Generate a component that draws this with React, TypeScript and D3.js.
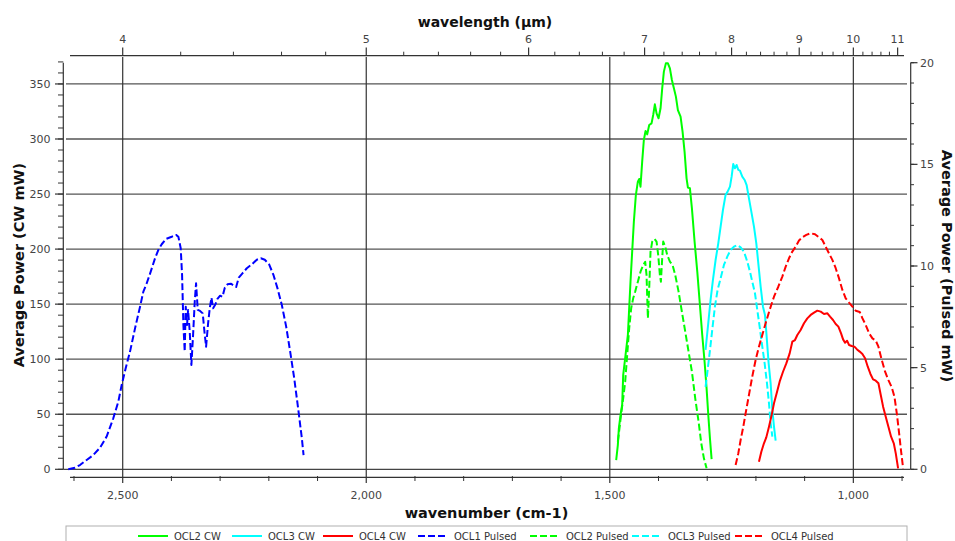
import React from 'react';
import * as d3 from 'd3';

// ---------- data (wavenumber cm-1, power mW) ----------
const ocl1PulsedWn = [2611.7, 2598.0, 2587.7, 2574.0, 2560.4, 2546.6, 2533.0, 2519.3, 2509.0, 2502.1, 2493.9, 2485.0, 2474.7, 2464.4, 2457.6, 2450.7, 2442.5, 2433.6, 2426.8, 2419.9, 2411.0, 2399.4, 2390.5, 2385.7, 2380.9, 2378.1, 2375.4, 2372.7, 2370.6, 2367.9, 2365.8, 2362.4, 2359.0, 2355.5, 2352.1, 2349.4, 2345.9, 2341.2, 2335.7, 2332.2, 2328.8, 2324.7, 2321.3, 2317.8, 2314.4, 2309.6, 2305.5, 2300.0, 2295.2, 2290.4, 2284.9, 2278.1, 2271.2, 2267.1, 2261.7, 2254.2, 2245.2, 2235.0, 2224.7, 2216.5, 2208.3, 2199.4, 2190.5, 2182.2, 2173.3, 2164.4, 2156.2, 2147.9, 2139.0, 2132.2, 2128.7];
const ocl1PulsedMw = [0.0, 0.08, 0.21, 0.46, 0.70, 1.06, 1.61, 2.51, 3.33, 4.15, 4.97, 5.79, 6.93, 8.00, 8.74, 9.15, 9.72, 10.38, 10.79, 11.07, 11.33, 11.44, 11.53, 11.44, 10.87, 9.56, 7.10, 5.79, 8.00, 7.10, 7.84, 6.77, 5.13, 6.61, 8.25, 9.15, 7.84, 7.79, 7.67, 6.77, 6.03, 7.18, 7.92, 8.44, 7.92, 8.12, 8.38, 8.54, 8.49, 8.93, 9.10, 9.13, 9.03, 8.97, 9.43, 9.64, 9.89, 10.08, 10.31, 10.38, 10.31, 10.08, 9.56, 8.90, 8.08, 7.02, 5.79, 4.48, 2.84, 1.52, 0.70];

const ocl2CwWn = [1486.9, 1483.5, 1481.4, 1478.0, 1474.6, 1472.5, 1467.7, 1462.9, 1457.5, 1450.6, 1446.5, 1442.4, 1439.6, 1437.0, 1433.5, 1430.1, 1426.6, 1423.2, 1419.1, 1414.3, 1410.9, 1407.5, 1404.0, 1399.9, 1395.8, 1392.4, 1389.0, 1384.9, 1380.7, 1376.6, 1372.5, 1368.4, 1364.3, 1360.2, 1354.7, 1350.6, 1346.5, 1342.4, 1339.6, 1335.5, 1331.4, 1325.9, 1320.4, 1315.0, 1310.2, 1305.4, 1301.3, 1297.8, 1294.4, 1291.0];
const ocl2CwMw = [8.4, 22.0, 37.2, 49.3, 58.4, 85.6, 103.8, 122.0, 170.4, 224.9, 249.1, 261.3, 263.7, 256.7, 279.4, 299.1, 307.3, 304.2, 312.7, 314.2, 321.8, 331.5, 323.3, 318.8, 327.9, 346.0, 361.2, 368.7, 368.7, 364.2, 353.6, 346.0, 338.5, 326.3, 320.3, 306.7, 288.5, 264.3, 255.8, 255.2, 237.0, 206.7, 179.5, 149.2, 122.0, 97.7, 73.5, 49.3, 28.1, 9.3];

const ocl2PulsedWn = [1483.5, 1480.1, 1476.6, 1472.5, 1468.4, 1464.3, 1460.2, 1456.1, 1452.0, 1447.9, 1442.4, 1436.9, 1431.4, 1427.3, 1424.6, 1421.8, 1419.1, 1416.4, 1412.9, 1408.1, 1404.0, 1400.6, 1397.2, 1395.1, 1392.4, 1390.3, 1386.2, 1382.1, 1376.6, 1371.1, 1365.7, 1358.8, 1352.0, 1345.1, 1338.3, 1331.4, 1324.6, 1317.7, 1312.2, 1306.8, 1301.3];
const ocl2PulsedMw = [1.36, 2.02, 2.75, 3.49, 4.31, 5.62, 6.93, 7.92, 8.41, 8.74, 9.23, 9.72, 10.05, 10.21, 9.56, 7.43, 8.90, 10.70, 11.20, 11.33, 11.20, 10.54, 9.56, 9.23, 10.38, 11.20, 10.95, 10.54, 10.21, 10.05, 9.56, 8.74, 7.75, 6.77, 5.79, 4.80, 3.49, 2.34, 1.28, 0.54, 0.05];

const ocl3CwWn = [1303.4, 1297.9, 1293.1, 1288.3, 1282.8, 1277.3, 1272.5, 1267.7, 1262.3, 1258.1, 1253.3, 1249.9, 1246.5, 1243.1, 1239.6, 1236.2, 1232.8, 1228.0, 1223.2, 1219.1, 1214.3, 1208.8, 1204.0, 1199.2, 1195.1, 1190.3, 1185.5, 1181.4, 1178.0, 1173.9, 1169.8, 1166.3, 1162.9, 1159.5];
const ocl3CwMw = [108.4, 132.6, 153.8, 171.9, 190.1, 205.2, 220.4, 235.5, 249.2, 252.2, 256.7, 265.8, 277.3, 273.4, 276.4, 271.9, 271.3, 265.8, 262.8, 258.2, 246.1, 232.5, 220.4, 205.2, 187.1, 165.9, 147.7, 140.2, 120.5, 96.3, 78.1, 53.9, 38.7, 26.0];

const ocl3PulsedWn = [1303.4, 1299.2, 1295.1, 1289.7, 1284.2, 1278.7, 1272.5, 1265.7, 1258.8, 1252.0, 1245.1, 1238.3, 1231.4, 1224.6, 1217.7, 1212.2, 1207.5, 1202.0, 1197.2, 1192.4, 1186.9, 1182.1, 1177.3, 1173.2, 1169.8, 1166.3];
const ocl3PulsedMw = [4.06, 4.88, 5.70, 6.85, 8.00, 8.82, 9.39, 10.05, 10.46, 10.79, 10.95, 11.03, 10.92, 10.71, 10.21, 9.72, 9.23, 8.66, 7.84, 7.02, 6.03, 5.21, 4.23, 3.25, 2.26, 1.61];

const ocl4CwWn = [1193.8, 1188.9, 1183.5, 1178.7, 1173.2, 1167.7, 1162.9, 1157.4, 1151.3, 1144.4, 1137.6, 1130.7, 1125.3, 1119.8, 1115.0, 1108.2, 1101.3, 1094.5, 1087.6, 1080.7, 1073.9, 1067.0, 1060.2, 1053.3, 1047.8, 1041.7, 1036.2, 1030.7, 1025.2, 1021.1, 1017.0, 1012.9, 1008.8, 1003.3, 997.8, 992.4, 986.9, 981.4, 975.9, 970.4, 964.9, 959.5, 954.0, 948.5, 943.7, 938.9, 933.5, 928.0, 922.5, 917.0, 912.9, 908.1];
const ocl4CwMw = [6.9, 16.0, 23.6, 29.0, 38.7, 49.3, 59.9, 69.0, 79.6, 88.6, 96.2, 105.3, 115.9, 117.4, 122.0, 126.5, 132.6, 137.1, 140.2, 142.3, 144.1, 143.2, 141.1, 141.7, 138.6, 135.6, 132.0, 129.6, 123.5, 118.0, 115.0, 116.8, 112.9, 112.0, 111.4, 108.9, 106.9, 104.7, 100.8, 93.2, 86.6, 81.7, 80.5, 78.1, 67.5, 56.9, 47.8, 38.7, 29.6, 23.6, 14.5, 0.9];

const ocl4PulsedWn = [1241.7, 1236.2, 1231.4, 1225.9, 1221.2, 1214.3, 1207.5, 1200.6, 1193.8, 1186.9, 1180.1, 1171.8, 1162.9, 1154.1, 1145.8, 1138.9, 1132.1, 1125.3, 1118.4, 1111.6, 1104.7, 1096.5, 1087.6, 1078.7, 1070.5, 1063.6, 1056.8, 1049.9, 1043.1, 1036.2, 1029.4, 1022.5, 1015.7, 1008.8, 1001.9, 995.1, 986.9, 981.4, 974.6, 967.7, 960.8, 954.0, 948.5, 941.7, 934.8, 928.0, 921.1, 915.6, 910.8, 906.0, 901.9, 897.8];
const ocl4PulsedMw = [0.21, 0.78, 1.44, 2.10, 2.75, 3.66, 4.56, 5.38, 6.03, 6.61, 7.18, 7.84, 8.49, 8.98, 9.48, 9.97, 10.38, 10.71, 10.95, 11.25, 11.41, 11.53, 11.61, 11.56, 11.41, 11.28, 10.95, 10.62, 10.30, 9.89, 9.39, 8.82, 8.41, 8.20, 8.00, 7.80, 7.74, 7.43, 7.10, 6.69, 6.44, 6.33, 6.03, 5.38, 4.80, 4.39, 4.03, 3.57, 2.75, 1.77, 0.87, 0.05];

// ---------- axes ----------
const bottomMajorTicks = [2500, 2000, 1500, 1000];
const bottomMinorTicks = [2600, 2400, 2300, 2200, 2100, 1900, 1800, 1700, 1600, 1400, 1300, 1200, 1100, 900];
const topMajorUm = [4, 5, 6, 7, 8, 9, 10, 11];
const leftMajorTicks = [0, 50, 100, 150, 200, 250, 300, 350];
const rightMajorTicks = [0, 5, 10, 15, 20];

const seriesNames = ['OCL2 CW', 'OCL3 CW', 'OCL4 CW', 'OCL1 Pulsed', 'OCL2 Pulsed', 'OCL3 Pulsed', 'OCL4 Pulsed'];
const seriesColors = ['#00ff00', '#00ffff', '#ff0000', '#0000ff', '#00ff00', '#00ffff', '#ff0000'];
const seriesAxis = ['left', 'left', 'left', 'right', 'right', 'right', 'right'];
const seriesWn = [ocl2CwWn, ocl3CwWn, ocl4CwWn, ocl1PulsedWn, ocl2PulsedWn, ocl3PulsedWn, ocl4PulsedWn];
const seriesMw = [ocl2CwMw, ocl3CwMw, ocl4CwMw, ocl1PulsedMw, ocl2PulsedMw, ocl3PulsedMw, ocl4PulsedMw];

const legendX = [138, 232, 323, 418, 530, 632, 735];

export default function App() {
  const W = 955, H = 541;
  const x = d3.scaleLinear().domain([2608, 896]).range([70.1, 904]);
  const yL = d3.scaleLinear().domain([0, 369.3]).range([469.3, 62.7]);
  const yR = d3.scaleLinear().domain([0, 20]).range([469.3, 62.7]);
  const fmt = d3.format(',');

  const topMinorUm = d3.range(4.2, 11.0, 0.2).filter((u) => Math.abs(u - Math.round(u)) > 0.01);
  const leftMinor = d3.range(0, 371, 10);
  const rightMinor = d3.range(0, 21, 1);

  const axisColor = '#333';
  const labelColor = '#444';
  const tickFont = { fontFamily: 'DejaVu Sans, sans-serif', fontSize: 11, fill: labelColor };
  const titleFont = { fontFamily: 'DejaVu Sans, sans-serif', fontWeight: 'bold' as const, fill: '#111' };

  const plotLeft = 63.3, plotRight = 910.7, plotTop = 62.7, plotBottom = 469.3;

  const lineFor = (i: number) => {
    const ys = seriesAxis[i] === 'left' ? yL : yR;
    const pts = seriesWn[i].map((w, k) => [w, seriesMw[i][k]] as [number, number]);
    return d3.line<[number, number]>().x((d) => x(d[0])).y((d) => ys(d[1]))(pts) || '';
  };

  const drawOrder = [3, 4, 0, 5, 1, 6, 2];

  return (
    <svg width={W} height={H} style={{ position: 'absolute', left: 0, top: 0, background: '#fff' }}>
      <rect x={0} y={0} width={W} height={H} fill="#fff" />

      {/* horizontal gridlines */}
      {leftMajorTicks.filter((v) => v > 0).map((v) => (
        <line key={'hg' + v} x1={66} x2={907} y1={yL(v)} y2={yL(v)} stroke="#555" strokeWidth={1.3} />
      ))}
      {/* vertical gridlines */}
      {bottomMajorTicks.map((v) => (
        <line key={'vg' + v} x1={x(v)} x2={x(v)} y1={57} y2={plotBottom} stroke="#333" strokeWidth={1.2} />
      ))}
      {/* bottom frame (zero line) */}
      <line x1={plotLeft} x2={plotRight} y1={plotBottom} y2={plotBottom} stroke="#444" strokeWidth={1.3} />

      {/* series */}
      {drawOrder.map((i) => (
        <path key={'s' + i} d={lineFor(i)} fill="none" stroke={seriesColors[i]} strokeWidth={2}
          strokeDasharray={seriesAxis[i] === 'right' ? '7,3' : undefined} strokeLinejoin="round" />
      ))}

      {/* top axis */}
      <line x1={70} x2={904} y1={55.7} y2={55.7} stroke={axisColor} strokeWidth={1.2} />
      {topMajorUm.map((u) => (
        <g key={'tM' + u}>
          <line x1={x(10000 / u)} x2={x(10000 / u)} y1={47.5} y2={55.7} stroke={axisColor} strokeWidth={1.2} />
          <text x={x(10000 / u)} y={42.5} textAnchor="middle" {...tickFont}>{u}</text>
        </g>
      ))}
      {topMinorUm.map((u) => (
        <line key={'tm' + u.toFixed(1)} x1={x(10000 / u)} x2={x(10000 / u)} y1={51.7} y2={55.7} stroke={axisColor} strokeWidth={1} />
      ))}
      <text x={485} y={27} textAnchor="middle" fontSize={14} {...titleFont}>wavelength (µm)</text>

      {/* bottom axis */}
      <line x1={70} x2={904} y1={477.3} y2={477.3} stroke={axisColor} strokeWidth={1.2} />
      {bottomMajorTicks.map((v) => (
        <g key={'bM' + v}>
          <line x1={x(v)} x2={x(v)} y1={plotBottom} y2={483} stroke={axisColor} strokeWidth={1.2} />
          <text x={x(v)} y={499} textAnchor="middle" {...tickFont}>{fmt(v)}</text>
        </g>
      ))}
      {bottomMinorTicks.map((v) => (
        <line key={'bm' + v} x1={x(v)} x2={x(v)} y1={476} y2={481} stroke={axisColor} strokeWidth={1} />
      ))}
      <text x={486.5} y={518} textAnchor="middle" fontSize={14.5} {...titleFont}>wavenumber (cm-1)</text>

      {/* left axis */}
      <line x1={plotLeft} x2={plotLeft} y1={plotTop} y2={plotBottom} stroke={axisColor} strokeWidth={1.2} />
      {leftMinor.map((v) => (
        <line key={'lm' + v} x1={58} x2={plotLeft} y1={yL(v)} y2={yL(v)} stroke={axisColor} strokeWidth={1} />
      ))}
      {leftMajorTicks.map((v) => (
        <g key={'lM' + v}>
          <line x1={55} x2={plotLeft} y1={yL(v)} y2={yL(v)} stroke={axisColor} strokeWidth={1.2} />
          <text x={50.5} y={yL(v) + 4} textAnchor="end" {...tickFont}>{v}</text>
        </g>
      ))}
      <text transform="translate(19,265) rotate(-90)" textAnchor="middle" dominantBaseline="central" fontSize={14.5} {...titleFont}>Average Power (CW mW)</text>

      {/* right axis */}
      <line x1={plotRight} x2={plotRight} y1={plotTop} y2={plotBottom} stroke={axisColor} strokeWidth={1.2} />
      {rightMinor.map((v) => (
        <line key={'rm' + v} x1={plotRight} x2={914} y1={yR(v)} y2={yR(v)} stroke={axisColor} strokeWidth={1} />
      ))}
      {rightMajorTicks.map((v) => (
        <g key={'rM' + v}>
          <line x1={plotRight} x2={917.5} y1={yR(v)} y2={yR(v)} stroke={axisColor} strokeWidth={1.2} />
          <text x={920} y={yR(v) + 4} textAnchor="start" {...tickFont}>{v}</text>
        </g>
      ))}
      <text transform="translate(947,266) rotate(90)" textAnchor="middle" dominantBaseline="central" fontSize={14.5} {...titleFont}>Average Power (Pulsed mW)</text>

      {/* legend */}
      <rect x={66} y={526} width={841} height={30} fill="#fff" stroke="#b0b0b0" strokeWidth={1} />
      {seriesNames.map((name, i) => (
        <g key={'lg' + i}>
          <line x1={legendX[i]} x2={legendX[i] + 30} y1={536} y2={536} stroke={seriesColors[i]} strokeWidth={2}
            strokeDasharray={seriesAxis[i] === 'right' ? '7,3' : undefined} />
          <text x={legendX[i] + 36} y={539.5} fontFamily="DejaVu Sans, sans-serif" fontSize={10} fill="#333">{name}</text>
        </g>
      ))}
    </svg>
  );
}
